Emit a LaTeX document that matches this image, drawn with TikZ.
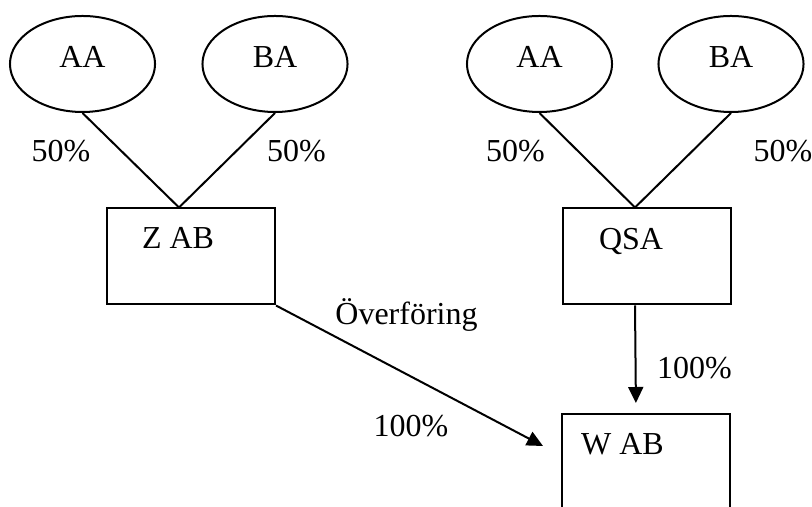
\documentclass[tikz,border=0pt]{standalone}
\usepackage{fontspec}
\setmainfont{Liberation Serif}
\usetikzlibrary{shapes.geometric,arrows.meta}

\begin{document}
\begin{tikzpicture}[x=0.375pt, y=-0.375pt, line width=0.75pt,
    font=\fontsize{12}{14}\selectfont,
    owner/.style={draw, ellipse, minimum width=54.4pt, minimum height=36pt, inner sep=0pt, text depth=5pt},
    company/.style={draw, rectangle, minimum width=63pt, minimum height=36pt, inner sep=0pt},
    tag/.style={anchor=base, inner sep=0pt},
    arr/.style={-{Triangle[length=6pt, width=5.6pt]}}]
    \useasboundingbox (0,0) rectangle (812,507);
    \clip (0,0) rectangle (812,507);

    % left group
    \node[owner] (aaL) at (82.5,64) {AA};
    \node[owner] (baL) at (275,64) {BA};
    \node[company] (zab) at (191,256.5) {};
    \node[tag] (zabname) at (178,249) {Z AB};
    \coordinate (ztop) at ([xshift=-4.5pt]zab.north);
    \draw (aaL.south) -- (ztop);
    \draw (baL.south) -- (ztop);
    \node[tag] (pAL) at (61,162) {50\%};
    \node[tag] (pBL) at (296.5,162) {50\%};

    % right group
    \node[owner] (aaR) at (539.5,64) {AA};
    \node[owner] (baR) at (731,64) {BA};
    \node[company] (qsa) at (647,256.5) {};
    \node[tag] (qsaname) at (631,250) {QSA};
    \coordinate (qtop) at ([xshift=-4.5pt]qsa.north);
    \draw (aaR.south) -- (qtop);
    \draw (baR.south) -- (qtop);
    \node[tag] (pAR) at (515.5,162) {50\%};
    \node[tag] (pBR) at (783,162) {50\%};

    % W AB, cut at the bottom
    \node[company, minimum height=75pt] (wab) at (646,514) {};
    \node[tag] (wabname) at (622.5,455) {W AB};

    % QSA owns W AB
    \draw[arr, shorten >=3.75pt] ([xshift=-4.5pt]qsa.south) -- ([xshift=-3.75pt]wab.north);
    \node[tag] (pQ) at (694.5,379) {100\%};

    % transfer from Z AB
    \coordinate (ztip) at (543,446);
    \draw[arr] (zab.south east) -- (ztip);
    \node[tag] (transfer) at (406.5,325) {Överföring};
    \node[tag] (pZ) at (411,437) {100\%};
\end{tikzpicture}
\end{document}
